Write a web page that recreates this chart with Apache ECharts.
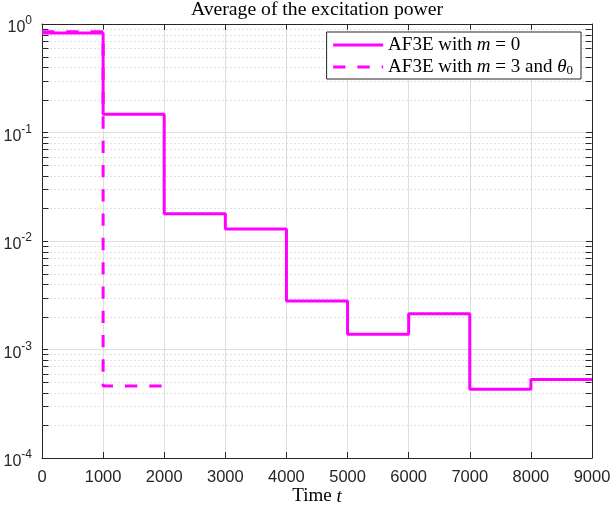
<!DOCTYPE html>
<html><head><meta charset="utf-8">
<script src="https://cdn.jsdelivr.net/npm/echarts@6/dist/echarts.min.js"></script>
<style>html,body{margin:0;padding:0;background:#fff}#c{width:612px;height:508px}</style>
</head><body><div id="c"></div>
<script>
// ---- data ----
const stepTimes = [0, 1000, 2000, 3000, 4000, 5000, 6000, 7000, 8000, 9000];
const powerM0 = [0.825, 0.147, 0.0178, 0.0129, 0.0028, 0.00138, 0.00214, 0.00043, 0.00053];
const stepTimesM3 = [0, 1000, 2000];
const powerM3 = [0.85, 0.00046];
const xTickLabels = ['0', '1000', '2000', '3000', '4000', '5000', '6000', '7000', '8000', '9000'];
const yDecadeExps = [-4, -3, -2, -1, 0];
const seriesNames = ['AF3E with m = 0', 'AF3E with m = 3 and theta0'];

// ---- helpers ----
function stairs(times, vals) {
  const d = vals.map((v, i) => [times[i], v]);
  d.push([times[times.length - 1], vals[vals.length - 1]]);
  return d;
}
const minorVals = [];
for (let i = 0; i < yDecadeExps.length - 1; i++) {
  for (let k = 2; k <= 9; k++) minorVals.push(k * Math.pow(10, yDecadeExps[i]));
}
const AX = '#262626';
const SERIF = '"Liberation Serif", "DejaVu Serif", serif';
const SANS = '"Liberation Sans", Arial, sans-serif';
const MAG = '#ff00ff';
const SF = 19;

const chart = echarts.init(document.getElementById('c'), null, {renderer: 'canvas'});
const option = {
  animation: false,
  backgroundColor: '#fff',
  title: {
    text: 'Average of the excitation power',
    left: 317, top: 0, textAlign: 'center', padding: 0,
    textStyle: {fontFamily: SERIF, fontSize: 19.7, fontWeight: 'normal', color: '#000', lineHeight: 20}
  },
  grid: {left: 42, right: 20, top: 24, bottom: 50, containLabel: false, outerBoundsMode: 'none'},
  legend: {
    data: seriesNames,
    orient: 'vertical',
    right: 31, top: 32,
    padding: [3, 8, 2, 5],
    itemGap: 2,
    itemWidth: 50, itemHeight: 14,
    backgroundColor: '#fff',
    borderColor: AX, borderWidth: 1, borderRadius: 0,
    itemStyle: {opacity: 0},
    lineStyle: {width: 3},
    formatter: function (name) {
      if (name === seriesNames[0]) return '{n|AF3E with }{i|m}{n| = 0}';
      return '{n|AF3E with }{i|m}{n| = 3 and }{i|θ}{sub|0}';
    },
    textStyle: {
      fontFamily: SERIF, fontSize: SF, color: '#000', lineHeight: 20,
      rich: {
        n: {fontFamily: SERIF, fontSize: SF, color: '#000', lineHeight: 20},
        i: {fontFamily: SERIF, fontSize: SF, fontStyle: 'italic', color: '#000', lineHeight: 20},
        sub: {fontFamily: SERIF, fontSize: 13, color: '#000', padding: [7, 0, 0, 0]}
      }
    }
  },
  xAxis: [{
    type: 'value', min: 0, max: 9000, interval: 1000,
    name: '{n|Time }{i|t}', nameLocation: 'middle', nameGap: 29, nameMoveOverlap: false,
    nameTextStyle: {
      fontFamily: SERIF, fontSize: SF, color: '#000',
      rich: {
        n: {fontFamily: SERIF, fontSize: SF, color: '#000'},
        i: {fontFamily: SERIF, fontSize: SF, fontStyle: 'italic', color: '#000'}
      }
    },
    axisLine: {show: true, onZero: false, lineStyle: {color: AX, width: 1}},
    axisTick: {show: true, inside: true, length: 6, lineStyle: {color: AX}},
    axisLabel: {
      fontFamily: SANS, fontSize: 16.5, color: AX, margin: 11,
      formatter: function (v) { return xTickLabels[Math.round(v / 1000)]; }
    },
    splitLine: {show: true, lineStyle: {color: '#dedede', width: 1}}
  }, {
    type: 'value', min: 0, max: 9000, interval: 1000, position: 'top',
    axisLine: {show: true, onZero: false, lineStyle: {color: AX, width: 1}},
    axisTick: {show: true, inside: true, length: 6, lineStyle: {color: AX}},
    axisLabel: {show: false}, splitLine: {show: false}
  }],
  yAxis: [{
    type: 'log', logBase: 10, min: 1e-4, max: 1,
    axisLine: {show: true, onZero: false, lineStyle: {color: AX, width: 1}},
    axisTick: {show: true, inside: true, length: 6, lineStyle: {color: AX}},
    axisLabel: {
      fontFamily: SANS, color: AX, margin: 10,
      formatter: function (v) {
        const e = Math.round(Math.log10(v));
        return '{b|10}{s|' + e + '}';
      },
      rich: {
        b: {fontFamily: SANS, fontSize: 16, lineHeight: 16, color: AX, padding: [8, 0, 0, 0]},
        s: {fontFamily: SANS, fontSize: 12, lineHeight: 12, color: AX, padding: [0, 0, 6, 0]}
      }
    },
    splitLine: {show: true, lineStyle: {color: '#dedede', width: 1}}
  }, {
    type: 'log', logBase: 10, min: 1e-4, max: 1, position: 'right',
    axisLine: {show: true, onZero: false, lineStyle: {color: AX, width: 1}},
    axisTick: {show: true, inside: true, length: 6, lineStyle: {color: AX}},
    axisLabel: {show: false}, splitLine: {show: false}
  }],
  series: [{
    type: 'custom', name: 'minor', silent: true, z: 1,
    xAxisIndex: 0, yAxisIndex: 0,
    data: minorVals.map(v => [0, v]),
    renderItem: function (params, api) {
      const y = Math.round(api.coord([0, api.value(1)])[1]) + 0.5;
      const cs = params.coordSys;
      const x0 = Math.round(cs.x) + 0.5, x1 = Math.round(cs.x + cs.width) - 0.5;
      return {type: 'group', children: [
        {type: 'line', shape: {x1: x0, y1: y, x2: x1, y2: y}, style: {stroke: '#c4c4c4', lineWidth: 1, lineDash: [1, 3]}},
        {type: 'line', shape: {x1: x0, y1: y, x2: x0 + 6, y2: y}, style: {stroke: AX, lineWidth: 1}},
        {type: 'line', shape: {x1: x1 - 6, y1: y, x2: x1, y2: y}, style: {stroke: AX, lineWidth: 1}}
      ]};
    }
  }, {
    name: seriesNames[0], type: 'line', step: 'end', z: 3,
    data: stairs(stepTimes, powerM0),
    symbol: 'none', color: MAG,
    lineStyle: {color: MAG, width: 3, type: 'solid'}
  }, {
    name: seriesNames[1], type: 'line', step: 'end', z: 4,
    data: stairs(stepTimesM3, powerM3),
    symbol: 'none', color: MAG,
    lineStyle: {color: MAG, width: 3, type: [12.3, 12]}
  }]
};
chart.setOption(option);
</script>
</body></html>
